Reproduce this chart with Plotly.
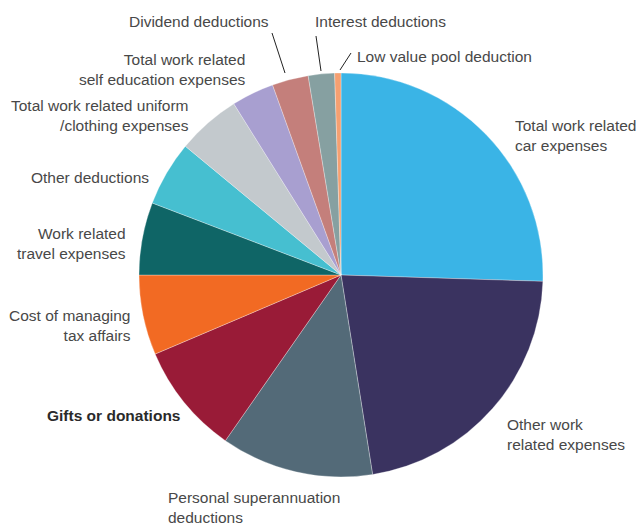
import plotly.graph_objects as go

W, H = 638, 525

labels = [
    'Total work related car expenses',
    'Other work related expenses',
    'Personal superannuation deductions',
    'Gifts or donations',
    'Cost of managing tax affairs',
    'Work related travel expenses',
    'Other deductions',
    'Total work related uniform /clothing expenses',
    'Total work related self education expenses',
    'Dividend deductions',
    'Interest deductions',
    'Low value pool deduction',
]
shares = [25.5, 22.0, 12.2, 8.9, 6.4, 5.8, 5.2, 5.1, 3.4, 2.9, 2.1, 0.5]
colors = ['#3AB4E6', '#3A3360', '#536A78', '#991B37', '#F26A23', '#0F6566',
          '#46BFD0', '#C3C9CD', '#A89FD0', '#C47F7B', '#86A0A1', '#F5A071']

# label text, anchor pixel (x, y), side
label_text = [
    ('Total work related<br>car expenses', 513, 135, 'left', False),
    ('Other work<br>related expenses', 505, 434, 'left', False),
    ('Personal superannuation<br>deductions', 166, 507, 'left', False),
    ('Gifts or donations', 182, 415, 'right', True),
    ('Cost of managing<br>tax affairs', 133, 325, 'right', False),
    ('Work related<br>travel expenses', 128, 244, 'right', False),
    ('Other deductions', 151, 177, 'right', False),
    ('Total work related uniform<br>/clothing expenses', 191, 115, 'right', False),
    ('Total work related<br>self education expenses', 248, 69, 'right', False),
    ('Dividend deductions', 127, 22, 'left', False),
    ('Interest deductions', 313, 22, 'left', False),
    ('Low value pool deduction', 355, 56, 'left', False),
]
leaders = [((272, 33), (285, 73)), ((316, 36), (321, 71)), ((351, 53), (340, 70))]

cx, cy, r = 341, 275, 202

fig = go.Figure(go.Pie(
    labels=labels, values=shares, sort=False, direction='clockwise', rotation=0,
    marker=dict(colors=colors, line=dict(color='rgba(255,255,255,0.6)', width=0.5)),
    textinfo='none', hoverinfo='label+percent', showlegend=False,
    domain=dict(x=[(cx - r) / W, (cx + r) / W], y=[(H - cy - r) / H, (H - cy + r) / H]),
))

annotations = []
for txt, px, py, side, bold in label_text:
    annotations.append(dict(
        text=f'<b>{txt}</b>' if bold else txt,
        x=px / W, y=1 - py / H, xref='paper', yref='paper',
        xanchor=side, yanchor='middle', align=side, showarrow=False,
        font=dict(size=15.5, color='#2a2a2a' if bold else '#484848'),
    ))

shapes = []
for (x0, y0), (x1, y1) in leaders:
    shapes.append(dict(type='line', xref='paper', yref='paper',
                       x0=x0 / W, y0=1 - y0 / H, x1=x1 / W, y1=1 - y1 / H,
                       line=dict(color='#222222', width=1)))

fig.update_layout(
    width=W, height=H,
    margin=dict(t=0, b=0, l=0, r=0),
    paper_bgcolor='white', plot_bgcolor='white',
    font=dict(family='Liberation Sans, Arial, sans-serif', color='#484848'),
    annotations=annotations, shapes=shapes,
)

fig.write_html('out.html', config={'displayModeBar': False},
               post_script="document.body.style.margin='0';")
